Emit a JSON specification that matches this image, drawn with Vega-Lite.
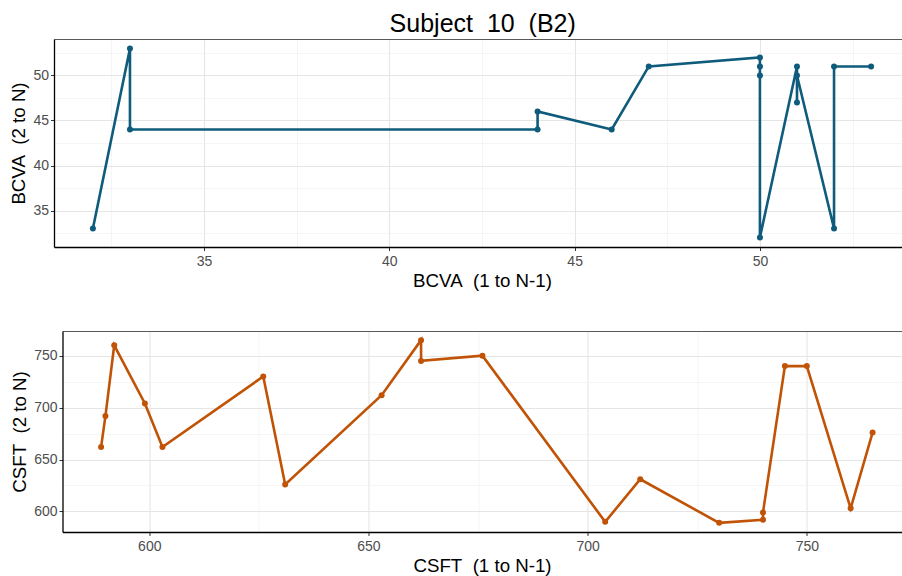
{
  "$schema": "https://vega.github.io/schema/vega-lite/v6.json",
  "background": "white",
  "padding": {"left": 9, "top": 12, "right": 0, "bottom": 0},
  "title": {
    "text": "Subject\u00a0\u00a010\u00a0\u00a0(B2)",
    "font": "Liberation Sans",
    "fontSize": 25,
    "fontWeight": "normal",
    "color": "black",
    "anchor": "middle",
    "dx": 23,
    "offset": 2
  },
  "config": {
    "font": "Liberation Sans",
    "view": {"stroke": null},
    "axis": {
      "labelFont": "Liberation Sans",
      "labelFontSize": 14,
      "labelColor": "#4D4D4D",
      "titleFont": "Liberation Sans",
      "titleFontSize": 18.7,
      "titleFontWeight": "normal",
      "titleColor": "black",
      "tickColor": "#333333",
      "tickSize": 3.5,
      "tickWidth": 1,
      "domainColor": "black",
      "domainWidth": 1.3,
      "gridColor": "#E5E5E5",
      "gridWidth": 1.1
    },
    "axisX": {"labelPadding": 4, "titlePadding": 3},
    "axisY": {"labelPadding": 2, "titlePadding": 4.5, "minExtent": 0}
  },
  "datasets": {
    "bcva": [
      {"seq": 1, "prev": 32, "next": 33},
      {"seq": 2, "prev": 33, "next": 53},
      {"seq": 3, "prev": 33, "next": 44},
      {"seq": 4, "prev": 44, "next": 44},
      {"seq": 5, "prev": 44, "next": 46},
      {"seq": 6, "prev": 46, "next": 44},
      {"seq": 7, "prev": 47, "next": 51},
      {"seq": 8, "prev": 50, "next": 52},
      {"seq": 9, "prev": 50, "next": 51},
      {"seq": 10, "prev": 50, "next": 50},
      {"seq": 11, "prev": 50, "next": 32},
      {"seq": 12, "prev": 51, "next": 51},
      {"seq": 13, "prev": 51, "next": 47},
      {"seq": 14, "prev": 51, "next": 50},
      {"seq": 15, "prev": 52, "next": 33},
      {"seq": 16, "prev": 52, "next": 51},
      {"seq": 17, "prev": 53, "next": 51}
    ],
    "csft": [
      {"seq": 1, "prev": 589, "next": 662},
      {"seq": 2, "prev": 590, "next": 692},
      {"seq": 3, "prev": 592, "next": 760},
      {"seq": 4, "prev": 599, "next": 704},
      {"seq": 5, "prev": 603, "next": 662},
      {"seq": 6, "prev": 626, "next": 730},
      {"seq": 7, "prev": 631, "next": 626},
      {"seq": 8, "prev": 653, "next": 712},
      {"seq": 9, "prev": 662, "next": 765},
      {"seq": 10, "prev": 662, "next": 745},
      {"seq": 11, "prev": 676, "next": 750},
      {"seq": 12, "prev": 704, "next": 590},
      {"seq": 13, "prev": 712, "next": 631},
      {"seq": 14, "prev": 730, "next": 589},
      {"seq": 15, "prev": 740, "next": 592},
      {"seq": 16, "prev": 740, "next": 599},
      {"seq": 17, "prev": 745, "next": 740},
      {"seq": 18, "prev": 750, "next": 740},
      {"seq": 19, "prev": 760, "next": 603},
      {"seq": 20, "prev": 765, "next": 676}
    ]
  },
  "center": true,
  "spacing": 40,
  "vconcat": [
    {
      "width": 856,
      "height": 208,
      "data": {"name": "bcva"},
      "layer": [
        {
          "mark": {"type": "line", "color": "#0F5B7C", "strokeWidth": 2.6, "clip": true},
          "encoding": {
            "x": {
              "field": "prev", "type": "quantitative",
              "scale": {"domain": [30.95, 54.05], "zero": false, "nice": false},
              "axis": {"title": "BCVA\u00a0\u00a0(1 to N-1)", "values": [35, 40, 45, 50], "grid": true}
            },
            "y": {
              "field": "next", "type": "quantitative",
              "scale": {"domain": [30.95, 54.05], "zero": false, "nice": false},
              "axis": {"title": "BCVA\u00a0\u00a0(2 to N)", "values": [35, 40, 45, 50], "grid": true, "minExtent": 0}
            },
            "order": {"field": "seq", "type": "quantitative"}
          }
        },
        {
          "mark": {"type": "point", "filled": true, "opacity": 1, "color": "#0F5B7C", "size": 36, "clip": true},
          "encoding": {
            "x": {
              "field": "prev", "type": "quantitative",
              "axis": {"orient": "top", "title": null, "labels": false, "ticks": false, "domain": true, "domainColor": "#595959", "domainWidth": 1, "grid": true, "gridColor": "#F0F0F0", "gridWidth": 0.7, "values": [32.5, 37.5, 42.5, 47.5, 52.5], "minExtent": 0}
            },
            "y": {
              "field": "next", "type": "quantitative",
              "axis": {"orient": "right", "title": null, "labels": false, "ticks": false, "domain": false, "grid": true, "gridColor": "#F0F0F0", "gridWidth": 0.7, "values": [32.5, 37.5, 42.5, 47.5, 52.5], "minExtent": 0}
            }
          }
        }
      ],
      "resolve": {"axis": {"x": "independent", "y": "independent"}}
    },
    {
      "width": 839,
      "height": 201,
      "data": {"name": "csft"},
      "layer": [
        {
          "mark": {"type": "line", "color": "#C15307", "strokeWidth": 2.6, "clip": true},
          "encoding": {
            "x": {
              "field": "prev", "type": "quantitative",
              "scale": {"domain": [580.2, 771.6], "zero": false, "nice": false},
              "axis": {"title": "CSFT\u00a0\u00a0(1 to N-1)", "values": [600, 650, 700, 750], "grid": true}
            },
            "y": {
              "field": "next", "type": "quantitative",
              "scale": {"domain": [580.2, 773.8], "zero": false, "nice": false},
              "axis": {"title": "CSFT\u00a0\u00a0(2 to N)", "values": [600, 650, 700, 750], "grid": true, "minExtent": 0}
            },
            "order": {"field": "seq", "type": "quantitative"}
          }
        },
        {
          "mark": {"type": "point", "filled": true, "opacity": 1, "color": "#C15307", "size": 36, "clip": true},
          "encoding": {
            "x": {
              "field": "prev", "type": "quantitative",
              "axis": {"orient": "top", "title": null, "labels": false, "ticks": false, "domain": true, "domainColor": "#595959", "domainWidth": 1, "grid": true, "gridColor": "#F0F0F0", "gridWidth": 0.7, "values": [625, 675, 725], "minExtent": 0}
            },
            "y": {
              "field": "next", "type": "quantitative",
              "axis": {"orient": "right", "title": null, "labels": false, "ticks": false, "domain": false, "grid": true, "gridColor": "#F0F0F0", "gridWidth": 0.7, "values": [625, 675, 725], "minExtent": 0}
            }
          }
        }
      ],
      "resolve": {"axis": {"x": "independent", "y": "independent"}}
    }
  ]
}
